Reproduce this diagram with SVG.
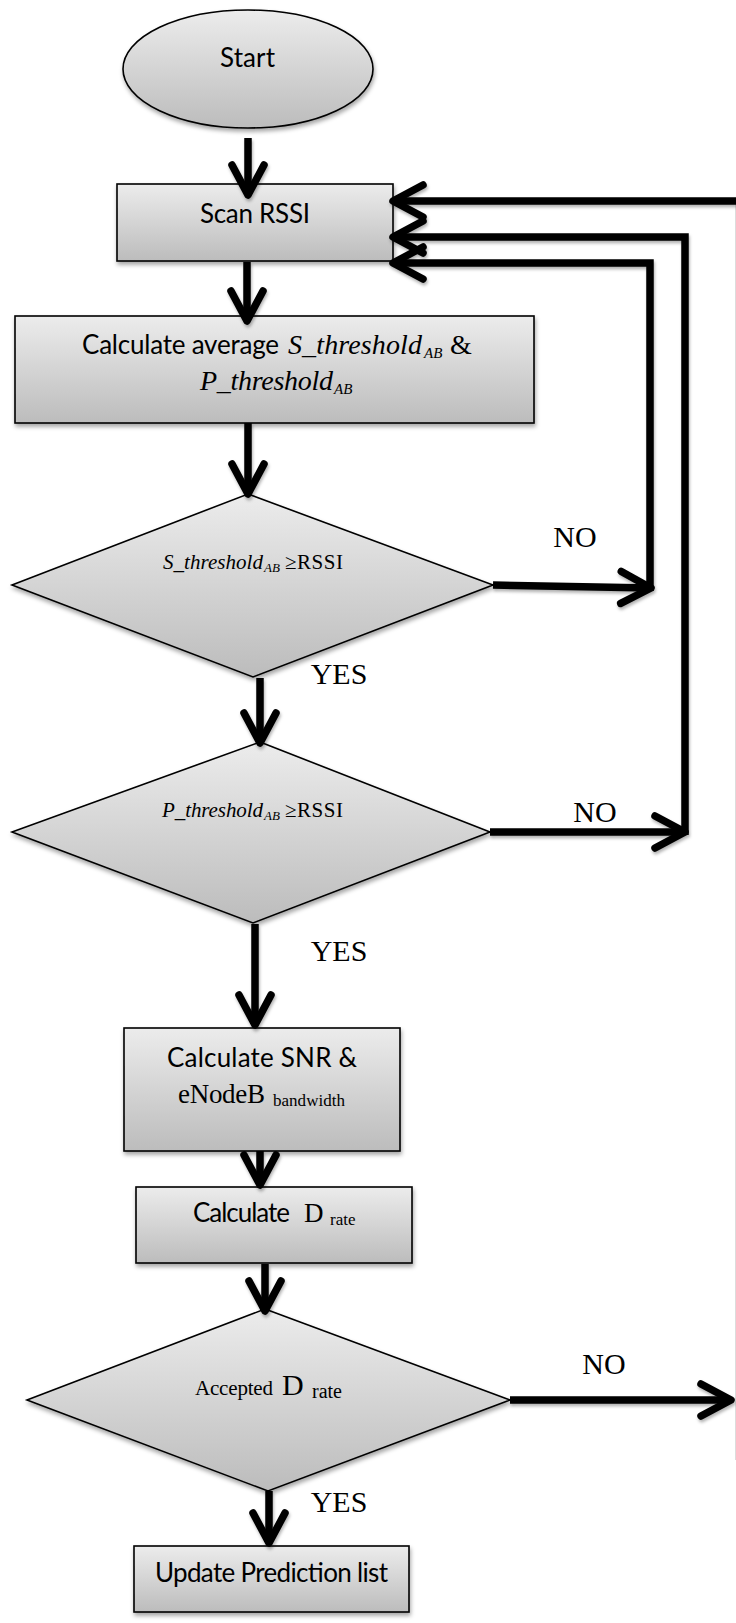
<svg xmlns="http://www.w3.org/2000/svg" width="736" height="1623" viewBox="0 0 736 1623">
  <defs>
    <linearGradient id="shade" x1="0" y1="0" x2="0" y2="1">
      <stop offset="0" stop-color="#ececec"/>
      <stop offset="1" stop-color="#bcbcbc"/>
    </linearGradient>
    <filter id="shadow" x="-10%" y="-10%" width="130%" height="130%">
      <feDropShadow dx="1" dy="3" stdDeviation="2" flood-color="#000" flood-opacity="0.35"/>
    </filter>
    <!-- straight lines have a zero-size bounding box, so use a page-sized filter region -->
    <filter id="lineShadow" filterUnits="userSpaceOnUse" x="0" y="0" width="736" height="1623">
      <feDropShadow dx="1" dy="2.5" stdDeviation="1.5" flood-color="#000" flood-opacity="0.3"/>
    </filter>
    <marker id="chev" markerUnits="userSpaceOnUse" orient="auto" refX="0" refY="0" markerWidth="40" markerHeight="40" overflow="visible">
      <path d="M-30,-16 L0,0 L-30,16" fill="none" stroke="#000" stroke-width="7.5" stroke-linecap="round" stroke-linejoin="round"/>
    </marker>
    <style>
      .shape { fill: url(#shade); stroke: #000; stroke-width: 1.6; filter: url(#shadow); }
      .sans { font-family: Lato, "Open Sans", "Liberation Sans", sans-serif; font-size: 26px; fill: #000; }
      .serif { font-family: "Liberation Serif", "DejaVu Serif", serif; fill: #000; }
      .it { font-style: italic; }
      .lbl { font-family: "Liberation Serif", "DejaVu Serif", serif; font-size: 30px; fill: #000; text-anchor: middle; }
      .flow { fill: none; stroke: #000; stroke-width: 7.5; stroke-linejoin: miter; }
      .arrow { marker-end: url(#chev); }
    </style>
  </defs>

  <!-- remnant of the outer loop line along the right edge -->
  <line x1="735.5" y1="200" x2="735.5" y2="1460" stroke="#dcdcdc" stroke-width="1"/>

  <g id="start">
    <ellipse class="shape" cx="248" cy="69" rx="125" ry="59"/>
    <text class="sans" x="220" y="67" textLength="55">Start</text>
  </g>

  <g id="scan-rssi">
    <rect class="shape" x="117" y="184" width="276" height="77"/>
    <text class="sans" x="200" y="223" textLength="110">Scan RSSI</text>
  </g>

  <g id="calc-average">
    <rect class="shape" x="15" y="316" width="519" height="107"/>
    <text y="354">
      <tspan class="sans" x="82" textLength="197">Calculate average</tspan>
      <tspan class="serif it" x="288" font-size="28" textLength="134">S_threshold</tspan>
      <tspan class="serif it" x="424" dy="4" font-size="15">AB</tspan>
      <tspan class="serif" x="450" dy="-4" font-size="28">&amp;</tspan>
    </text>
    <text y="390">
      <tspan class="serif it" x="200" font-size="28" textLength="133">P_threshold</tspan>
      <tspan class="serif it" x="334" dy="4" font-size="15">AB</tspan>
    </text>
  </g>

  <g id="check-s-threshold">
    <polygon class="shape" points="248,494 493,585 253,677 12,585"/>
    <text y="569">
      <tspan class="serif it" x="163" font-size="21" textLength="100">S_threshold</tspan>
      <tspan class="serif it" x="264" dy="3" font-size="13">AB</tspan>
      <tspan class="serif" x="285" dy="-3" font-size="21" textLength="58">≥RSSI</tspan>
    </text>
  </g>

  <g id="check-p-threshold">
    <polygon class="shape" points="260,742 490,832 253,923 12,832"/>
    <text y="817">
      <tspan class="serif it" x="162" font-size="21" textLength="101">P_threshold</tspan>
      <tspan class="serif it" x="264" dy="3" font-size="13">AB</tspan>
      <tspan class="serif" x="285" dy="-3" font-size="21" textLength="58">≥RSSI</tspan>
    </text>
  </g>

  <g id="calc-snr">
    <rect class="shape" x="124" y="1028" width="276" height="123"/>
    <text class="sans" x="167" y="1067" textLength="190">Calculate SNR &amp;</text>
    <text y="1103">
      <tspan class="serif" x="178" font-size="27" textLength="87">eNodeB</tspan>
      <tspan class="serif" x="273" dy="3" font-size="17" textLength="72">bandwidth</tspan>
    </text>
  </g>

  <g id="calc-drate">
    <rect class="shape" x="136" y="1187" width="276" height="76"/>
    <text y="1222">
      <tspan class="sans" x="193" textLength="97">Calculate</tspan>
      <tspan class="serif" x="304" font-size="27">D</tspan>
      <tspan class="serif" x="330" dy="3" font-size="17">rate</tspan>
    </text>
  </g>

  <g id="check-drate">
    <polygon class="shape" points="265,1309 510,1400 268,1491 27,1400"/>
    <text y="1395">
      <tspan class="serif" x="195" font-size="21" textLength="78">Accepted</tspan>
      <tspan class="serif" x="282" font-size="30">D</tspan>
      <tspan class="serif" x="312" dy="3" font-size="20">rate</tspan>
    </text>
  </g>

  <g id="update-list">
    <rect class="shape" x="134" y="1546" width="275" height="66"/>
    <text class="sans" x="155" y="1582" textLength="233">Update Prediction list</text>
  </g>

  <g id="connectors" filter="url(#lineShadow)">
    <path class="flow arrow" d="M248,138 V195"/>
    <path class="flow arrow" d="M247,262 V321"/>
    <path class="flow arrow" d="M248,423 V494"/>
    <path class="flow arrow" d="M260,678 V743"/>
    <path class="flow arrow" d="M255,924 V1025"/>
    <path class="flow arrow" d="M260,1151 V1185"/>
    <path class="flow arrow" d="M265,1264 V1311"/>
    <path class="flow arrow" d="M269,1491 V1543"/>

    <path class="flow arrow" d="M493,585 L651,588"/>
    <path class="flow arrow" d="M490,832 H685"/>
    <path class="flow arrow" d="M510,1400 H731"/>

    <path class="flow arrow" d="M736,201 H393"/>
    <path class="flow arrow" d="M685,835 V237 H393"/>
    <path class="flow arrow" d="M650,591 V263 H393"/>
  </g>

  <g id="branch-labels">
    <text class="lbl" x="575" y="547">NO</text>
    <text class="lbl" x="339" y="684">YES</text>
    <text class="lbl" x="595" y="822">NO</text>
    <text class="lbl" x="339" y="961">YES</text>
    <text class="lbl" x="604" y="1374">NO</text>
    <text class="lbl" x="339" y="1512">YES</text>
  </g>
</svg>
